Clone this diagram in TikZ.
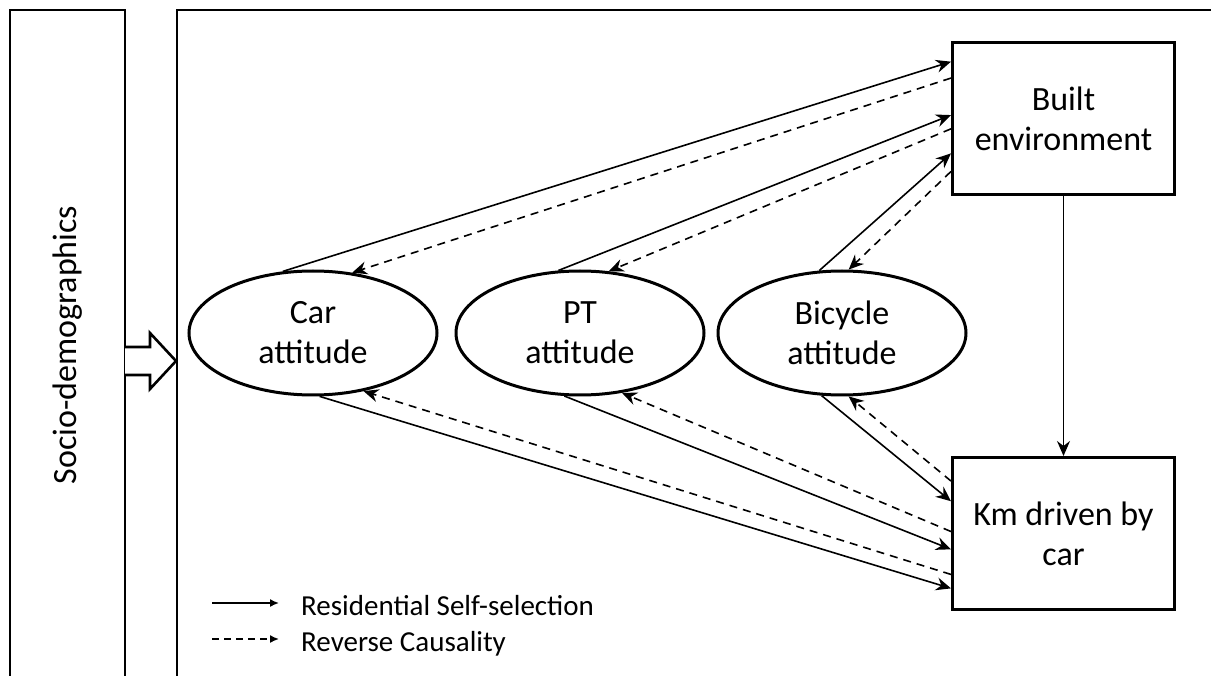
\documentclass[tikz,border=0pt]{standalone}
\usepackage{fontspec}
\setmainfont{Carlito}
\usetikzlibrary{arrows.meta,shapes.geometric}
\begin{document}
\begin{tikzpicture}[x=1pt,y=-1pt,
  lbl/.style={font=\fontsize{34}{40}\selectfont, align=center},
  box/.style={draw, line width=3pt, minimum width=222pt, minimum height=152pt, inner sep=0pt, lbl},
  att/.style={ellipse, draw, line width=3pt, minimum width=248pt, minimum height=124pt, inner sep=0pt, lbl},
  tip/.style={-{Stealth[length=15pt,width=13pt,inset=5pt]}},
  rs/.style={line width=1.6pt, tip},
  rc/.style={rs, dash pattern=on 8pt off 6pt},
  frame/.style={line width=2.6pt},
  legs/.style={line width=1.6pt, -{Latex[length=9pt,width=8pt]}},
  legtxt/.style={font=\fontsize{29}{34}\selectfont, anchor=base west, inner sep=0pt},
]
\useasboundingbox (0,0) rectangle (1211,676);
% frames
\draw[frame] (10,676) -- (10,10) -- (125,10) -- (125,676);
\draw[frame] (177,676) -- (177,10) -- (1211,10);
\node[rotate=90, lbl] (socio) at (68,345) {Socio-demographics};
% fat arrow
\draw[line width=2.6pt, fill=white, line join=miter] (125,347) -- (150,347) -- (150,333) -- (176,361) -- (150,389) -- (150,375) -- (125,375);
% nodes
\node[box] (built) at (1063.5,119) {Built\\environment};
\node[box] (km) at (1063.5,533.5) {Km driven by\\car};
\node[att] (car) at (313,333) {Car\\attitude};
\node[att] (pt) at (580,333) {PT\\attitude};
\node[att] (bike) at (842,333) {Bicycle\\attitude};
% connectors to built environment
\draw[rs] (car.116) -- (built.153.3);
\draw[rc] (built.160.3) -- (car.57);
\draw[rs] (pt.109.5) -- (built.178);
\draw[rc] (built.185.6) -- (pt.65.6);
\draw[rs] (bike.110.9) -- (built.197.9);
\draw[rc] (built.205.8) -- (bike.84.6);
% connectors to km
\draw[rs] (car.276.4) -- (km.206.2);
\draw[rc] (km.200.5) -- (car.311.2);
\draw[rs] (pt.256.4) -- (km.188.5);
\draw[rc] (km.179.2) -- (pt.305.9);
\draw[rs] (bike.252) -- (km.164.6);
\draw[rc] (km.155.1) -- (bike.276.8);
\draw[line width=1.2pt, tip] (built.south) -- (km.north);
% legend
\coordinate (l1a) at (212,603);
\coordinate (l1b) at (279,603);
\coordinate (l2a) at (212,639);
\coordinate (l2b) at (279,639);
\draw[legs] (l1a) -- (l1b);
\draw[legs, dash pattern=on 7pt off 5pt] (l2a) -- (l2b);
\node[legtxt] (t1) at (301,615) {Residential Self-selection};
\node[legtxt] (t2) at (301,651) {Reverse Causality};
\end{tikzpicture}
\end{document}
